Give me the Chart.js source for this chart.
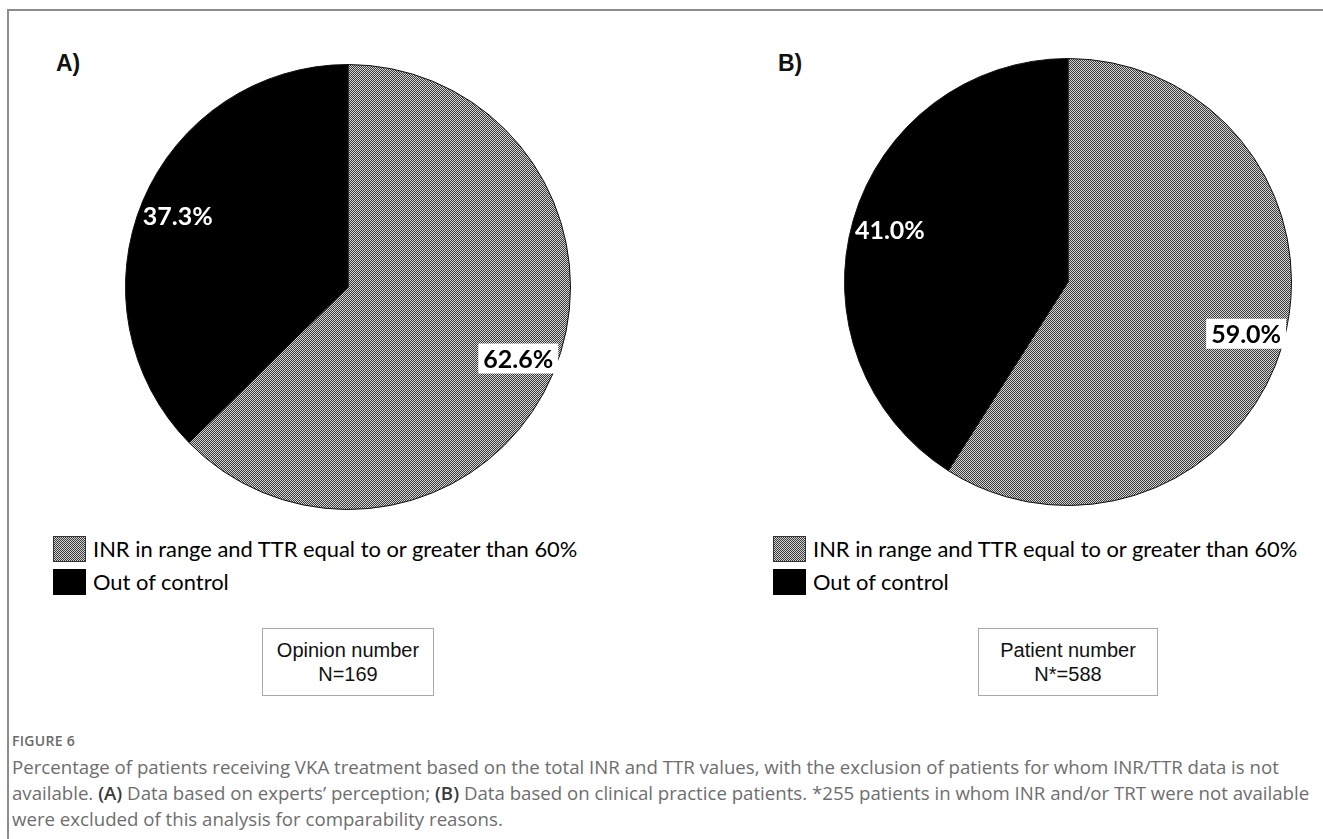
<!DOCTYPE html>
<html>
<head>
<meta charset="utf-8">
<script src="https://cdn.jsdelivr.net/npm/chart.js@4.4.1/dist/chart.umd.min.js"></script>
<style>
  body { margin: 0; background: #fff; width: 1323px; height: 839px; position: relative; overflow: hidden; }
  .frame { position: absolute; left: 7px; top: 9px; right: -4px; bottom: -4px; border-top: 2px solid #8c8c8c; border-left: 2px solid #8c8c8c; }
  .tag { position: absolute; font: bold 23px "Liberation Sans", Arial, sans-serif; color: #111; }
  canvas.pie { position: absolute; }
  .legend { position: absolute; }
  .row { position: absolute; left: 0; height: 26px; white-space: nowrap; }
  .sw { position: absolute; left: 0; top: 0; width: 33px; height: 26px; box-sizing: border-box; }
  .sw.hatch { background: repeating-conic-gradient(#3c3c3c 0 25%, #d2d2d2 0 50%) 0 0 / 2px 2px; border: 1px solid #333; }
  .sw.solid { background: #000; }
  .row span { position: absolute; left: 40px; top: 13px; transform: translateY(-52%); font-family: Lato, sans-serif; color: #000; }
  .nbox { position: absolute; border: 1px solid #a8a8a8; background: #fff; text-align: center; box-sizing: border-box;
          font: 20px "Liberation Sans", Arial, sans-serif; line-height: 24px; padding-top: 9px; color: #111; }
  .cap { position: absolute; left: 12px; font-family: "Open Sans", sans-serif; color: #6e6e6e; white-space: nowrap; }
  .cap b { color: #3a3a3a; font-weight: 600; }
  .fig { position: absolute; left: 12px; top: 731px; font: 600 14px "Open Sans", sans-serif; color: #6a6a6a; letter-spacing: 0.3px; }
</style>
</head>
<body>
<div class="frame"></div>
<div class="tag" style="left:56px; top:50px;">A)</div>
<div class="tag" style="left:778px; top:50px;">B)</div>
<canvas id="pieA" class="pie" width="480" height="480" style="left:108px; top:47px;"></canvas>
<canvas id="pieB" class="pie" width="480" height="480" style="left:828px; top:42px;"></canvas>
<div id="legendA" class="legend" style="left:53px; top:536px;"></div>
<div id="legendB" class="legend" style="left:773px; top:536px;"></div>
<div id="boxA" class="nbox" style="left:262px; top:628px; width:172px; height:68px;"></div>
<div id="boxB" class="nbox" style="left:978px; top:628px; width:180px; height:68px;"></div>
<div class="fig">FIGURE 6</div>
<div id="caption"></div>

<script>
// slices, clockwise from 12 o'clock
const categories = ['INR in range and TTR equal to or greater than 60%', 'Out of control'];
const opinionValues = [62.6, 37.3];
const patientValues = [59.0, 41.0];
const boxTitles = ['Opinion number', 'Patient number'];
const boxCounts = ['N=169', 'N*=588'];
const captionLines = [
  'Percentage of patients receiving VKA treatment based on the total INR and TTR values, with the exclusion of patients for whom INR/TTR data is not',
  'available. <b>(A)</b> Data based on experts\u2019 perception; <b>(B)</b> Data based on clinical practice patients. *255 patients in whom INR and/or TRT were not available',
  'were excluded of this analysis for comparability reasons.'
];

// fine checkerboard fill for the "in range" slice
function hatchPattern() {
  const c = document.createElement('canvas');
  c.width = 2; c.height = 2;
  const g = c.getContext('2d');
  g.fillStyle = '#d2d2d2'; g.fillRect(0, 0, 2, 2);
  g.fillStyle = '#3c3c3c'; g.fillRect(0, 0, 1, 1); g.fillRect(1, 1, 1, 1);
  return g.createPattern(c, 'repeat');
}

// percentage text placed along each slice's mid angle
const sliceLabels = {
  id: 'sliceLabels',
  afterDatasetsDraw(chart) {
    const ctx = chart.ctx;
    const vals = chart.data.datasets[0].data;
    ctx.save();
    ctx.font = 'bold 25px Lato';
    ctx.textAlign = 'center';
    ctx.textBaseline = 'middle';
    chart.getDatasetMeta(0).data.forEach((arc, i) => {
      const p = arc.getProps(['x', 'y', 'startAngle', 'endAngle', 'outerRadius']);
      const mid = (p.startAngle + p.endAngle) / 2;
      const r = p.outerRadius * 0.83;
      const x = p.x + Math.cos(mid) * r;
      const y = p.y + Math.sin(mid) * r;
      const txt = vals[i].toFixed(1) + '%';
      if (i === 0) {
        const w = ctx.measureText(txt).width + 10;
        ctx.fillStyle = '#fff';
        ctx.fillRect(x - w / 2, y - 15, w, 30);
        ctx.fillStyle = '#000';
      } else {
        ctx.fillStyle = '#fff';
      }
      ctx.fillText(txt, x, y + 1);
    });
    ctx.restore();
  }
};

function makePie(id, values, pad) {
  return new Chart(document.getElementById(id), {
    type: 'pie',
    data: {
      labels: categories,
      datasets: [{
        data: values,
        backgroundColor: [hatchPattern(), '#000'],
        borderColor: '#111',
        borderWidth: 1
      }]
    },
    options: {
      responsive: false,
      animation: false,
      layout: { padding: pad },
      plugins: { legend: { display: false }, tooltip: { enabled: false } }
    },
    plugins: [sliceLabels]
  });
}

function buildLegend(id) {
  const el = document.getElementById(id);
  const probe = document.createElement('canvas').getContext('2d');
  probe.font = '100px Lato';
  const size = 100 * 486 / probe.measureText(categories[0]).width;
  categories.forEach((name, i) => {
    const row = document.createElement('div');
    row.className = 'row';
    row.style.top = (i * 33) + 'px';
    row.innerHTML = '<div class="sw ' + (i === 0 ? 'hatch' : 'solid') + '"></div><span>' + name + '</span>';
    row.querySelector('span').style.fontSize = size.toFixed(1) + 'px';
    el.appendChild(row);
  });
}

// caption lines share one size, chosen so the longest line ends near the right edge
function buildCaption() {
  const wrap = document.getElementById('caption');
  captionLines.forEach((line, i) => {
    const d = document.createElement('div');
    d.className = 'cap';
    d.style.top = (754 + i * 26) + 'px';
    d.style.fontSize = '16px';
    d.innerHTML = line;
    wrap.appendChild(d);
  });
  const rows = [...wrap.querySelectorAll('.cap')];
  const widest = Math.max(...rows.map(d => d.getBoundingClientRect().width));
  const fs = 16 * 1298 / widest;
  rows.forEach(d => d.style.fontSize = fs.toFixed(2) + 'px');
}

document.getElementById('boxA').innerHTML = boxTitles[0] + '<br>' + boxCounts[0];
document.getElementById('boxB').innerHTML = boxTitles[1] + '<br>' + boxCounts[1];

document.fonts.ready.then(() => {
  makePie('pieA', opinionValues, 17);
  makePie('pieB', patientValues, 16);
  buildLegend('legendA');
  buildLegend('legendB');
  buildCaption();
});
</script>
</body>
</html>
